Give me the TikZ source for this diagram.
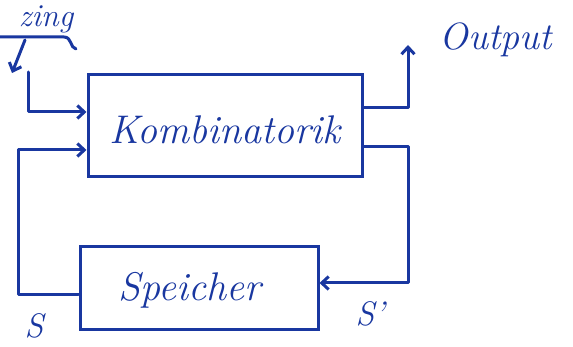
\documentclass[tikz,border=0pt]{standalone}
\usetikzlibrary{arrows.meta,calc}
\definecolor{handblue}{RGB}{25,55,160}
\begin{document}
\begin{tikzpicture}[x=1pt,y=-1pt,
  every node/.style={text=handblue},
  blockbox/.style={draw=handblue,line width=3pt,inner sep=0pt},
  wire/.style={draw=handblue,line width=3pt,line join=round,line cap=round},
  arr/.style={wire,-{Straight Barb[length=7pt,width=13pt,line width=3pt]}},
  hand/.style={font=\fontsize{40}{42}\selectfont\itshape}]
\useasboundingbox (0,0) rectangle (573,347);
\node[blockbox,minimum width=274pt,minimum height=102pt] (komb) at (225,126) {};
\node[hand] (kombt) at (225,130) {Kombinatorik};
\node[blockbox,minimum width=238pt,minimum height=83pt] (spei) at (199,288) {};
\node[hand] (speit) at (190,290) {Speicher};
\node[hand,font=\fontsize{38}{40}\selectfont\itshape] (outt) at (496,40) {Output};
\node[hand,font=\fontsize{32}{34}\selectfont\itshape,inner sep=0pt] (zing) at (46,19) {zing};
\node[hand,font=\fontsize{34}{36}\selectfont\itshape] (s) at (34,326) {S};
\node[hand,font=\fontsize{34}{36}\selectfont\itshape] (s2) at (370,314) {S'};
\coordinate (outend) at (408,45);
\coordinate (inA) at (0,37);
\coordinate (inB) at (12,73);
\coordinate (inC) at (28,72);
% output
\draw[arr] (komb.east |- 0,108) -- (408,108) -- (outend);
% feedback to memory
\draw[arr] (komb.east |- 0,147) -- (408,147) -- (408,283) -- (spei.east |- 0,283);
% memory back to logic
\draw[arr] (spei.west |- 0,295) -- (18,295) -- (18,150) -- (komb.west |- 0,150);
% external input
\draw[arr] (inC) -- (28,112) -- (komb.west |- 0,112);
% top bracket and arrow
\draw[wire] (inA) -- (64,37) .. controls (72,37) and (70,48) .. (76,49);
\draw[arr] (25,40) -- (inB);
\end{tikzpicture}
\end{document}
